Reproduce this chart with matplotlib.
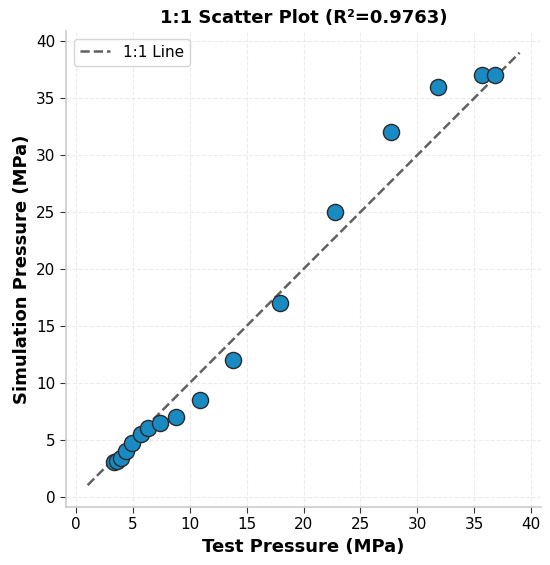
import numpy as np
import matplotlib
matplotlib.use("Agg")
from matplotlib import pyplot as plt

# measured vs simulated pressure (MPa)
test_pressure = [3.3, 3.6, 3.9, 4.4, 4.9, 5.7, 6.3, 7.4, 8.8, 10.9,
                 13.8, 17.9, 22.8, 27.7, 31.8, 35.7, 36.8]
sim_pressure = [3.0, 3.15, 3.4, 4.0, 4.7, 5.5, 6.0, 6.5, 7.0, 8.5,
                12.0, 17.0, 25.0, 32.0, 36.0, 37.0, 37.0]
line_range = [1, 39]
r2 = 0.9763

plt.rcParams['font.family'] = ['DejaVu Sans']

fig, ax = plt.subplots(figsize=(5.5, 5.65), dpi=100)
fig.subplots_adjust(left=0.12, right=0.984, bottom=0.103, top=0.945)

ax.scatter(test_pressure, sim_pressure, s=135, color='#1a8ac2',
           edgecolor='#2a2a2a', linewidth=1.0, zorder=3)
ax.plot(line_range, line_range, linestyle='--', color='#606060',
        linewidth=1.8, label='1:1 Line', zorder=2)

ax.set_xlabel('Test Pressure (MPa)', fontsize=13, fontweight='bold')
ax.set_ylabel('Simulation Pressure (MPa)', fontsize=13, fontweight='bold')
ax.set_title(f'1:1 Scatter Plot (R\u00b2={r2:.4f})', fontsize=13, fontweight='bold')

ax.set_xticks(np.arange(0, 41, 5))
ax.set_yticks(np.arange(0, 41, 5))
ax.tick_params(labelsize=11, length=4, color='#333333')
ax.grid(True, linestyle='--', color='#ececec', linewidth=0.8)
ax.set_axisbelow(True)

for side in ['top', 'right']:
    ax.spines[side].set_visible(False)
for side in ['left', 'bottom']:
    ax.spines[side].set_color('#cccccc')
    ax.spines[side].set_linewidth(1.2)

ax.legend(loc='upper left', fontsize=11, frameon=True, edgecolor='#cccccc')

fig.savefig('out.png', dpi=100)
